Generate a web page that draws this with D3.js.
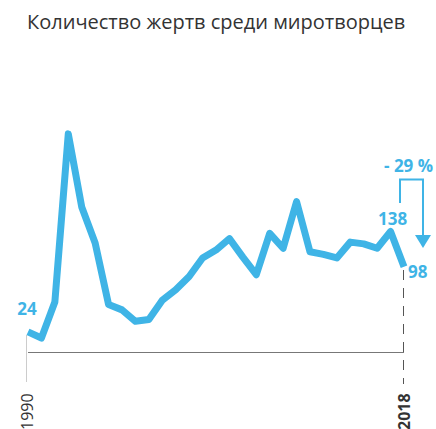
<!DOCTYPE html>
<html>
<head>
<meta charset="utf-8">
<script src="https://cdn.jsdelivr.net/npm/d3@7"></script>
<style>
  body { margin: 0; background: #fff; }
  svg { display: block; font-family: "Open Sans", sans-serif; }
</style>
</head>
<body>
<svg id="chart" width="436" height="429"></svg>
<script>
// data
var years = d3.range(1990, 2019);
var deaths = [24, 17, 58, 249, 166, 125, 55, 49, 36, 38, 60, 72, 87, 108, 117,
  130, 109, 89, 136, 119, 172, 115, 112, 108, 126, 124, 119, 138, 98];
var changeLabel = "- 29 %";

var blue = "#3fb4e6";
var svg = d3.select("#chart");

var x = d3.scaleLinear().domain([1990, 2018]).range([28, 404]);
var y = d3.scaleLinear().domain([0, 250]).range([353, 133]);

svg.append("text")
  .attr("x", 27)
  .attr("y", 29)
  .style("font-size", "20px")
  .attr("fill", "#333")
  .text("Количество жертв среди миротворцев");

// base line
svg.append("line")
  .attr("x1", x(1990)).attr("x2", x(2018))
  .attr("y1", 352.5).attr("y2", 352.5)
  .attr("stroke", "#777").attr("stroke-width", 1);

// 1990 marker
svg.append("line")
  .attr("x1", x(1990) - 1.5).attr("x2", x(1990) - 1.5)
  .attr("y1", 335).attr("y2", 382)
  .attr("stroke", "#ccc").attr("stroke-width", 1);

// 2018 marker (dashed)
svg.append("line")
  .attr("x1", x(2018) - 0.5).attr("x2", x(2018) - 0.5)
  .attr("y1", 270).attr("y2", 384)
  .attr("stroke", "#555").attr("stroke-width", 1)
  .attr("stroke-dasharray", "10,8");

svg.append("text")
  .attr("transform", "translate(" + (x(1990) + 5) + ",430) rotate(-90)")
  .style("font-size", "16px")
  .attr("fill", "#333")
  .text(years[0]);

svg.append("text")
  .attr("transform", "translate(" + (x(2018) + 6) + ",430) rotate(-90)")
  .style("font-size", "16px")
  .style("font-weight", "bold")
  .attr("fill", "#333")
  .text(years[years.length - 1]);

var line = d3.line()
  .x(function (d, i) { return x(years[i]); })
  .y(function (d) { return y(d); });

svg.append("path")
  .datum(deaths)
  .attr("d", line)
  .attr("fill", "none")
  .attr("stroke", blue)
  .attr("stroke-width", 7)
  .attr("stroke-linejoin", "round");

// value labels
var n = deaths.length;
svg.append("text")
  .attr("x", x(1990) - 1)
  .attr("y", y(deaths[0]) - 17)
  .attr("text-anchor", "middle")
  .style("font-size", "17px")
  .style("font-weight", "bold")
  .attr("fill", blue)
  .text(deaths[0]);

svg.append("text")
  .attr("x", x(2017) + 2)
  .attr("y", y(deaths[n - 2]) - 7)
  .attr("text-anchor", "middle")
  .style("font-size", "17px")
  .style("font-weight", "bold")
  .attr("fill", blue)
  .text(deaths[n - 2]);

svg.append("text")
  .attr("x", x(2018) + 4)
  .attr("y", y(deaths[n - 1]) + 11)
  .style("font-size", "17px")
  .style("font-weight", "bold")
  .attr("fill", blue)
  .text(deaths[n - 1]);

// change arrow
svg.append("text")
  .attr("x", 384)
  .attr("y", 172)
  .style("font-size", "17px")
  .style("font-weight", "bold")
  .attr("fill", blue)
  .text(changeLabel);

svg.append("path")
  .attr("d", "M400,203 V179.5 H423 V237")
  .attr("fill", "none")
  .attr("stroke", blue)
  .attr("stroke-width", 2);

svg.append("path")
  .attr("d", "M415,235 L431,235 L423,248 Z")
  .attr("fill", blue);
</script>
</body>
</html>
